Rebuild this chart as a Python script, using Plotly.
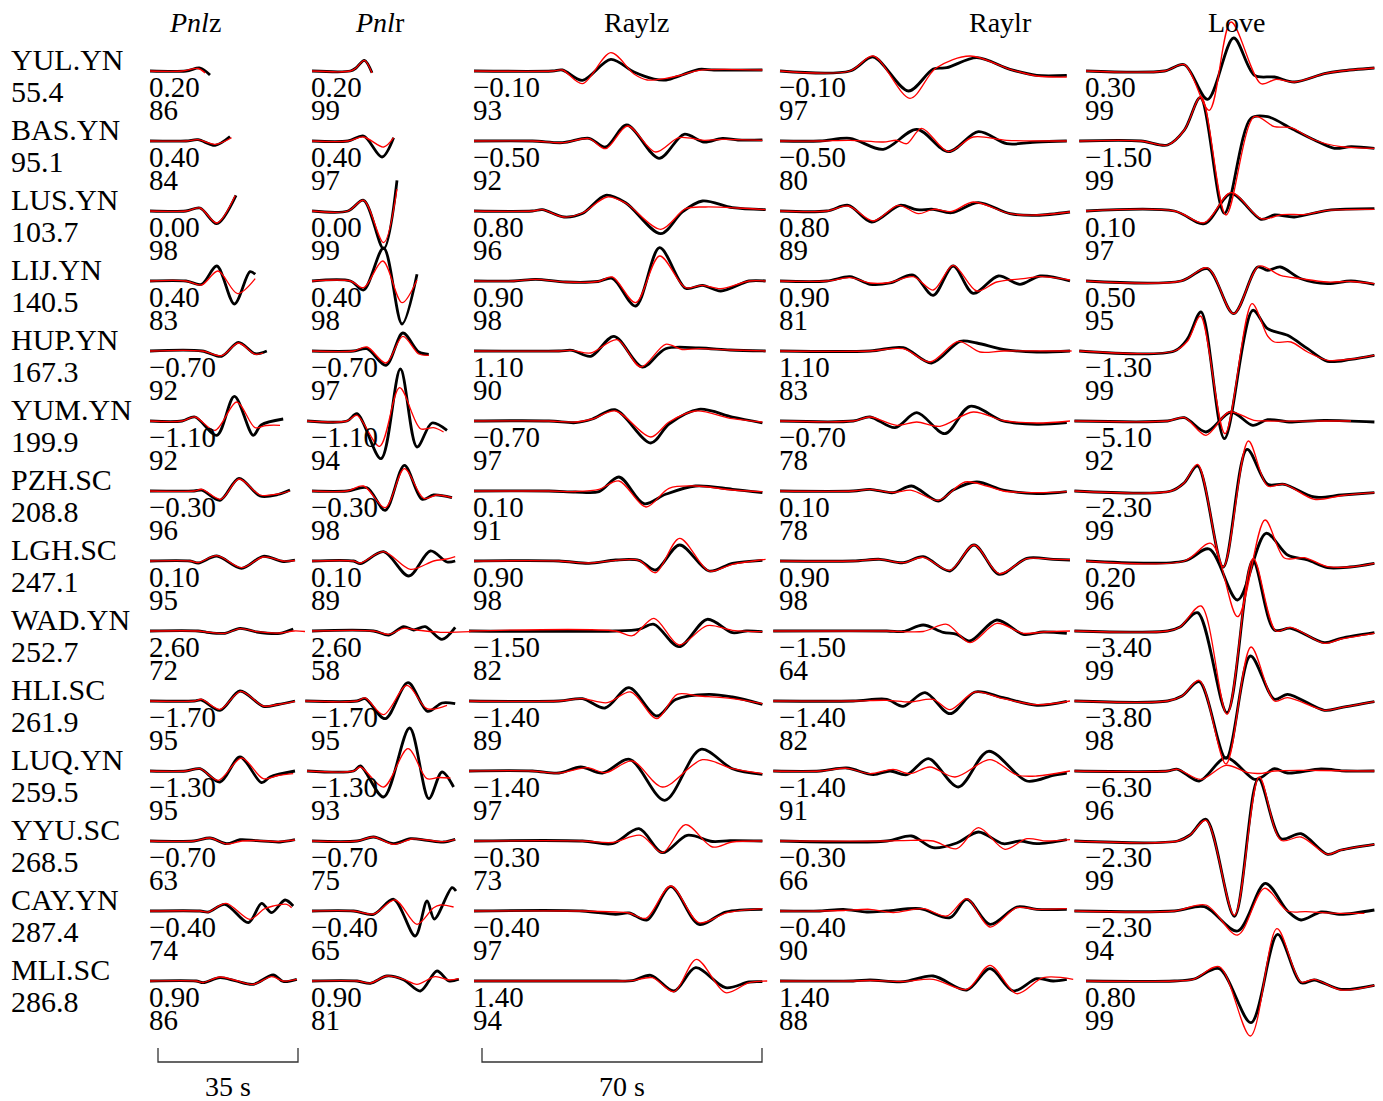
import plotly.graph_objects as go

# ---------------- data ----------------
STATIONS = ["YUL.YN", "BAS.YN", "LUS.YN", "LIJ.YN", "HUP.YN", "YUM.YN", "PZH.SC",
            "LGH.SC", "WAD.YN", "HLI.SC", "LUQ.YN", "YYU.SC", "CAY.YN", "MLI.SC"]
DISTANCES = [55.4, 95.1, 103.7, 140.5, 167.3, 199.9, 208.8,
             247.1, 252.7, 261.9, 259.5, 268.5, 287.4, 286.8]

SHIFT_PNL = [0.20, 0.40, 0.00, 0.40, -0.70, -1.10, -0.30, 0.10, 2.60, -1.70, -1.30, -0.70, -0.40, 0.90]
SHIFT_RAYL = [-0.10, -0.50, 0.80, 0.90, 1.10, -0.70, 0.10, 0.90, -1.50, -1.40, -1.40, -0.30, -0.40, 1.40]
SHIFT_LOVE = [0.30, -1.50, 0.10, 0.50, -1.30, -5.10, -2.30, 0.20, -3.40, -3.80, -6.30, -2.30, -2.30, 0.80]

CC_PNLZ = [86, 84, 98, 83, 92, 92, 96, 95, 72, 95, 95, 63, 74, 86]
CC_PNLR = [99, 97, 99, 98, 97, 94, 98, 89, 58, 95, 93, 75, 65, 81]
CC_RAYLZ = [93, 92, 96, 98, 90, 97, 91, 98, 82, 89, 97, 73, 97, 94]
CC_RAYLR = [97, 80, 89, 81, 83, 78, 78, 98, 64, 82, 91, 66, 90, 88]
CC_LOVE = [99, 99, 97, 95, 99, 92, 99, 96, 99, 98, 96, 99, 94, 99]

# waveforms: (time in s from window start, amplitude), observed (black) and synthetic (red)
PNLZ_OBS = [
    [(0, 0), (9, 0), (12.5, 3), (15, -4)],
    [(0, 0), (9, 0), (12, 1.3), (16.3, -4.3), (20, 4.5)],
    [(0, 0), (9, 0), (12.5, 3), (16.7, -12.7), (21.5, 15.7)],
    [(0, 0), (9, 0), (12.9, -3.3), (16.7, 15), (21.1, -23), (25, 9.3), (26.3, 6.7)],
    [(0, 0), (13, 0), (17.9, -5.3), (22.1, 8.7), (26.3, -2.7), (29.2, 0)],
    [(0, 0), (8, 0), (11.25, 4), (16.7, -14.3), (21.1, 24.7), (25.8, -14.3), (27.8, -4), (33.3, 2)],
    [(0, 0), (11, 0), (13, 0.8), (17.5, -9.3), (22.25, 12.7), (27.5, -5), (32, -3.5), (35, 1)],
    [(0, 0), (10, 0), (12.1, -2), (16.7, 5), (22.9, -7.3), (28.3, 4.7), (33.3, -0.5), (36.25, 1)],
    [(0, 0), (12, 0), (14.2, -1.3), (18.75, -2.3), (22.5, 2.7), (26.7, -1), (32.5, -2.3), (35.8, 2)],
    [(0, 0), (11, 0), (12.9, 1), (17.5, -9.3), (22.5, 10), (28.3, -5.3), (32, -3.5), (36.25, 0)],
    [(0, 0), (9, 0), (12.5, 2.3), (17.5, -11), (22.5, 14), (27.9, -11.7), (30, -6), (36.25, 0)],
    [(0, 0), (11, 0), (15, 3), (19.2, -2.7), (22.5, 1.3), (26.7, 0.3), (32.5, -1), (36.25, 1.3)],
    [(0, 0), (12.5, 0), (14.6, -1), (18.75, 6.7), (24.6, -11.7), (27.9, 7.7), (30.4, -1.7), (33.75, 11), (35.8, 5)],
    [(0, 0), (11.5, 0), (13.3, -1.7), (17.5, 3.3), (21.5, 0), (25.8, -3.3), (30.8, 6), (33.3, -0.5), (36.7, 1.7)],
]
PNLZ_SYN = [
    [(0, 0), (8, 0), (12, 2.5), (13.8, -2)],
    [(0, 0), (9, 0), (12, 1.3), (16.3, -3.3), (20.4, 3.3)],
    [(0, 0), (9, 0), (12.5, 3), (16.7, -12), (21.3, 15.5)],
    [(0, 0), (9, 0), (12.9, -4), (17, 10), (21.9, -12.7), (26.3, 2.3)],
    [(0, 0), (13, 0), (17.9, -4.7), (22.1, 8), (26.3, -3.3), (28.3, -2)],
    [(0, 0), (8, 0), (11.25, 4), (16.25, -9.3), (21.7, 19), (26.25, -6.7), (29, -4.5), (32.5, -4.3)],
    [(0, 0), (11, 0), (13, 1.7), (17.7, -8.3), (22.25, 12), (27.5, -4), (32, -3), (35, 0)],
    [(0, 0), (10, 0), (12.1, -1.5), (16.7, 5.3), (22.9, -6.7), (28.3, 4), (33.3, 0), (36.25, 0.5)],
    [(0, 0), (12, 0), (14.2, -1), (18.75, -2.3), (22.5, 2.3), (26.7, -0.7), (32.5, -2), (36, 0), (38.75, -0.5)],
    [(0, 0), (11, 0), (12.9, 1.7), (17.5, -8.3), (22.7, 9.7), (28.3, -5), (32, -3.5), (36.25, -0.3)],
    [(0, 0), (9, 0), (12.5, 2.3), (17.1, -9.3), (22.9, 13), (28.3, -7.7), (32, -4.5), (35.8, -2.7)],
    [(0, 0), (11, 0), (15, 3), (19.2, -3), (23, 0), (26.7, 0.5), (32.5, -0.5), (36.25, 1)],
    [(0, 0), (12.5, 0), (14.6, -1), (19, 7.7), (25, -8.3), (28.5, 2), (30.8, 5), (34.2, 6.7), (35.4, 3.3)],
    [(0, 0), (11.5, 0), (13.3, -1.5), (17.5, 4), (21.5, 0.5), (25.8, -3.3), (30.4, 4.3), (33.3, 0), (36.7, 1.7)],
]
PNLR_OBS = [
    [(0, 0), (9.6, 0), (11, 3), (13.1, 10.7), (15, -1.7)],
    [(0, 0), (9, 0), (12.9, 5), (17.5, -16), (20.4, 3.3)],
    [(0, 0), (9, 0), (12.9, 10.7), (17.9, -37.7), (21.25, 30.7)],
    [(0, 0), (9.6, 0), (12.9, -9), (17.9, 33), (22.5, -43), (26.25, 6.7)],
    [(0, 0), (10.4, 0), (13.75, 2.3), (18.5, -14.3), (22.7, 18), (26.7, -1), (29.2, -3.3)],
    [(-1.25, 0), (8.75, 0), (11.25, 7.3), (17.25, -37.7), (22.1, 52), (26.25, -26), (30, -2), (33.75, -9.3)],
    [(0, 0), (8.75, 0), (13.75, 3.3), (18.3, -19.3), (23.1, 25.7), (27.5, -8.3), (30.4, -4), (35, -6.7)],
    [(0, 0), (10.4, 0), (12.1, -2.7), (17.9, 9.3), (24.2, -15), (29.6, 10), (33.75, -1), (35.8, 0)],
    [(0, 0), (15.4, 0), (19.2, -4), (22.9, 4.3), (25.4, 1), (28.3, 4.3), (32.5, -8.3), (35.8, 3.7)],
    [(-1.7, 0), (11.25, 0), (13.3, 2.3), (18.3, -17.7), (24, 18.3), (28.9, -10.3), (32.5, -2), (35.8, -2.7)],
    [(-1.25, 0), (10.4, 0), (12.1, 5), (17.9, -26), (24.4, 43), (29.2, -27.7), (32.5, -1), (35.4, -16)],
    [(0, 0), (11.25, 0), (15.4, 4), (20.4, -2.7), (24.6, 2.3), (28.75, 0.7), (32.9, -1), (35.8, 1.7)],
    [(0, 0), (10.4, 0), (15.4, -3.3), (20.4, 11.7), (25.8, -25), (28.75, 10), (30.6, -8), (35, 23.3), (36, 20)],
    [(0, 0), (11.25, 0), (14.6, -2.3), (18.75, 5), (23, 1), (27.1, -10), (31.25, 10), (34.2, 0), (36.7, 1.7)],
]
PNLR_SYN = [
    [(0, 0), (9.6, 0), (11, 3), (13.1, 10.7), (15, -2)],
    [(0, 0), (9, 0), (12.9, 4), (17.9, -6), (20.4, 3.3)],
    [(0, 0), (9, 0), (12.9, 10.7), (17.9, -31.7), (21.25, 22)],
    [(0, 0), (9.6, 0), (12.9, -6.7), (17.7, 20), (22.5, -21.7), (26.25, 1)],
    [(0, 0), (10.4, 0), (13.75, 4), (18.5, -12), (22.7, 14.7), (26.7, -3), (29.2, -4.3)],
    [(-1.25, 0), (8.75, 0), (11.25, 5.7), (16.9, -25.3), (21.9, 33.3), (27.1, -7.7), (30.4, -6.7), (32.9, -11)],
    [(0, 0), (8.75, 0), (12.9, 5), (18.3, -16.7), (23.1, 22.3), (27.9, -7.3), (31.25, -4), (35, -6.7)],
    [(0, 0), (10.4, 0), (12.1, -2), (17.9, 9.3), (24.6, -8.3), (30.4, 0), (33.75, 2), (35.8, 4.3)],
    [(0, 0), (15.4, 0), (19.2, -3.3), (22.9, 2.7), (26.25, 1), (32.1, -1.3), (39.6, -0.7)],
    [(-1.7, 0), (11.25, 0), (13.3, 3), (17.9, -13.7), (23.75, 15.7), (28.75, -7.7), (33.75, -4.3)],
    [(-1.25, 0), (10.4, 0), (12.1, 4), (17.9, -16), (24, 22.3), (28.75, -7.7), (31.5, -6.5), (34.6, -7)],
    [(0, 0), (11.25, 0), (15.4, 4), (20.4, -3.3), (25, 2), (28.75, 1), (32.9, -0.7), (35.8, 1.3)],
    [(0, 0), (10.4, 0), (15.4, -3), (20.8, 11), (26.25, -13.3), (30.4, 3.3), (32.1, 6), (35.4, 4)],
    [(0, 0), (11.25, 0), (14.6, -2), (18.75, 5), (23, 1.5), (26.25, -3.3), (30.8, 4.3), (34.2, 1), (36.7, 2.3)],
]
RAYLZ_OBS = [
    [(0, 0), (19.6, 0), (22.1, 1), (27.1, -9.3), (34.2, 11.7), (40, -1), (45, -8), (48, -9), (52, -4), (56.25, 1.7), (60, 1), (72.1, 1)],
    [(0, 0), (14.6, 0), (22.1, -1.7), (28.75, 2.7), (32.9, -6), (38.2, 16), (46.25, -17.3), (52.5, 6.7), (57.5, -1), (62.1, 2.7), (66, 1), (72.1, 1)],
    [(0, 0), (14.6, 0), (17.1, 1.3), (22.5, -6), (27.1, -2.5), (32.9, 15.7), (37.9, 8.3), (46.7, -22.7), (52.1, -1), (57.1, 10), (64.6, 3.3), (72.9, 1.3)],
    [(0, 0), (10, 0), (15.4, 1.7), (22.9, -1), (31, -0.5), (34.6, 2.7), (40.4, -25), (46.4, 33.3), (52.9, -7.3), (57.1, -4.3), (61.7, -10), (68.75, 0), (72.9, 0)],
    [(0, 0), (21.25, 0), (24.5, 0.7), (29.2, -5.3), (35, 14.7), (42.1, -16), (47.9, 2.3), (56.25, 3), (64, 1), (72.9, 0)],
    [(0, 0), (18.75, 0), (25.4, -1.7), (29.6, 2), (35.25, 11.3), (44.2, -22), (48.75, -3), (56.25, 11.7), (64.6, 4), (72.1, -2)],
    [(0, 0), (18.75, 0), (25.4, -1), (31.25, -0.7), (36.25, 14), (42.5, -12.7), (47.9, -3.3), (55.4, 5), (64.6, 1.7), (72.1, -1.7)],
    [(0, 0), (21.25, 0), (28.75, -2.3), (35.4, 1), (41.25, 0.7), (45.4, -9), (51.4, 16), (58.75, -10), (64.6, -2.3), (72.1, 0.7)],
    [(-1.25, 0), (35.4, 0), (41.25, 1.7), (45, 6.7), (51.25, -15.7), (58.3, 11.7), (64.6, -1.7), (68, 0), (72.1, -0.7)],
    [(-1.25, 0), (21.25, 0), (27.1, 2.3), (32.75, -7), (38.75, 13.3), (45.7, -15), (50.4, 1.5), (58.75, 6.7), (64.6, 4), (72.1, -3.3)],
    [(-1.25, 0), (14.6, 0), (21.25, -2), (26.7, 4), (32.1, -2), (38.9, 11.7), (47.7, -29.3), (56.7, 21.7), (64.6, 2.3), (72.1, -3.3)],
    [(0, 0), (27.1, 0), (34.6, -2.7), (41.25, 12.3), (47.1, -11.7), (53.3, 5.7), (59.6, -0.5), (64, 0.3), (72.1, 0)],
    [(0, 0), (27.1, 0), (35.4, -3.3), (38.75, -2), (43.3, -9), (49.2, 24.3), (56.25, -13.3), (62.9, -1), (72.1, 1.7)],
    [(0, 0), (35.4, 0), (39.6, 0.3), (44.2, 5.7), (50, -10), (55.4, 13.3), (62.9, -6.7), (68.75, -1), (72.1, -0.7)],
]
RAYLZ_SYN = [
    [(0, 0), (19.6, 0), (22.1, 1), (27.1, -12.7), (34.2, 18.3), (40, -3), (43.3, -9), (48, -7.3), (52, -4), (56.25, 0.7), (72.1, 1)],
    [(0, 0), (14.6, 0), (22.1, -1.7), (28.75, 2.3), (32.9, -7.7), (38.4, 15), (45.4, -11), (51.25, 3.3), (57.5, 0.7), (62.1, 1.7), (72.1, 0.7)],
    [(0, 0), (14.6, 0), (17.1, 1.3), (22.5, -6), (27.1, -2), (33.3, 14), (37.9, 8), (46.7, -18.3), (52.9, 2.3), (57.9, 4), (66, 3), (72.9, 1.3)],
    [(0, 0), (10, 0), (15.4, 1.7), (22.9, -1), (31, -0.5), (34.6, 4), (40.4, -21.7), (46.4, 25), (52.9, -6.7), (57.1, -4.3), (61.7, -7.7), (68.75, 0), (72.9, 0)],
    [(0, 0), (21.25, 0), (24.5, 0.7), (29.2, -2), (35.8, 11.3), (41.7, -16), (47.9, 6.7), (52, 1.5), (56.25, 2.3), (64, 1), (72.9, 0)],
    [(0, 0), (18.75, 0), (25.4, -1), (29.6, 2), (35.4, 10), (44.2, -16), (48.75, -1), (55.4, 10), (64.6, 2.3), (72.1, -1)],
    [(0, 0), (18.75, 0), (25.4, -0.5), (31.25, 1.7), (36.25, 10), (43, -16), (48.75, 2.7), (55.4, 5), (64.6, 1), (72.1, -0.7)],
    [(0, 0), (21.25, 0), (28.75, -2), (35.4, 0.7), (41.25, 0.7), (45.4, -11.7), (51.4, 22.7), (58.75, -10), (64.6, -3.3), (72.9, 1.7)],
    [(-1.25, 0), (35.4, 0), (39.6, -4.7), (45, 12.7), (51.25, -14), (58.3, 5.3), (64.6, 0.7), (72.1, -0.7)],
    [(-1.25, 0), (21.25, 0), (27.1, 2.3), (33.3, -1.7), (39.2, 9), (45.7, -17.7), (50.8, 6.7), (56.25, 5), (64.6, 2.3), (72.1, -2.7)],
    [(-1.25, 0), (14.6, 0), (21.25, -2), (28.3, 3.3), (32.9, -1.7), (39.6, 10), (47.1, -16), (57.1, 11.3), (64.6, 2.3), (72.1, -2.7)],
    [(0, 0), (27.1, 0), (34.6, -1.5), (41.7, 5.7), (47.1, -11.7), (52.9, 16.3), (59.6, -6), (64.6, -1), (72.1, 0)],
    [(0, 0), (27.1, 0), (35.4, -1), (38.75, -2), (43, -7.3), (49.2, 25), (56.25, -11.7), (63.3, -1.7), (72.1, 2.3)],
    [(0, 0), (35.4, 0), (39.6, 0.3), (44.6, 3.3), (50, -10.7), (55.6, 21.7), (62.9, -11.7), (68.75, -1.7), (73.3, 0)],
]
RAYLR_OBS = [
    [(0, 0), (17.5, 0), (23.3, 14), (32.1, -20), (38.3, 2), (41.7, 3.3), (49.2, 13.3), (57.5, 1.7), (64.2, -4.3), (71.7, -4.3)],
    [(0, 0), (10, 0), (17.5, 2.7), (25.8, -8.3), (34.2, 11.7), (42.1, -10.7), (49.6, 9.3), (56.7, -2.7), (64.2, -1), (71.7, 0)],
    [(0, 0), (11.7, 0), (17.1, 5.7), (22.9, -11), (30, 5.7), (34.2, 1.3), (38.3, 1.7), (42.9, -1.7), (49.6, 8.3), (57.5, -2.7), (64.2, -4.3), (72.5, -1)],
    [(0, 0), (11.7, 0), (17.5, 4.3), (22.5, -3.3), (27.5, -2), (33.3, 6), (38.3, -14.3), (43.3, 15), (48.3, -12.3), (54.6, 5), (60, -3.3), (65, 5), (72.5, 0)],
    [(0, 0), (22.5, 0), (30.8, 3.3), (37.9, -12), (45, 9.7), (49.2, 8), (55.8, 1.7), (64.2, -1), (72.5, 0)],
    [(0, 0), (18.3, 0), (22.5, 4), (28.75, -6.7), (34.2, 8.3), (41.25, -12.7), (47.5, 14.7), (55.8, 0), (64.2, -3.3), (71.7, -1.7)],
    [(0, 0), (18.3, 0), (22.5, 1.7), (28.3, -1.7), (32.9, 5), (39.6, -10), (43.3, 1), (49.2, 9), (55.8, 1), (64.2, -2.7), (71.7, -0.7)],
    [(0, 0), (18.3, 0), (25, 1.7), (30.8, -1.7), (35.8, 4.3), (42.5, -10), (48.5, 16), (54.8, -13.3), (61.7, 2.7), (68.3, 1.7), (72.5, 1)],
    [(-1.7, 0), (26.7, 0), (30.8, -0.5), (35.8, 6), (40.8, -1.3), (44.2, -3.3), (47.5, -10), (54.2, 11), (60.8, -3.3), (65.8, -1), (71.7, -2.3)],
    [(-1.7, 0), (18.3, 0), (26.7, 1.7), (30.8, -5.3), (36.25, 8.3), (42.5, -12.7), (48.75, 9), (55.8, 3.3), (64.2, -4.3), (71.7, -0.3)],
    [(-1.7, 0), (10, 0), (16.7, 3), (23.3, -3.7), (27.5, 0), (31.7, -3.7), (37.1, 12.3), (44.6, -16), (52.1, 19.7), (61.7, -10), (68.3, -4.3), (71.7, -2)],
    [(0, 0), (26.7, 0), (32.9, 5), (38.3, -6.7), (44.2, -2), (49.6, 9), (55.8, -2.7), (60, 0), (64.2, -2.7), (71.7, 1.3)],
    [(0, 0), (10, 0), (15.8, 1.7), (21.7, -1), (26.7, 0), (35, 2.3), (42.5, -6.7), (46.7, 11.7), (52.5, -13.3), (59.2, 4), (64.2, 1.7), (71.7, 1.7)],
    [(0, 0), (18.3, 0), (22.5, 1), (30.8, -0.7), (38.3, 5), (46.7, -9), (52.5, 12.3), (58.3, -10), (64.2, 2.3), (68.3, 0), (71.7, 1.7)],
]
RAYLR_SYN = [
    [(0, 0), (17.5, 0), (23.3, 15), (32.5, -27.3), (39, 3), (47.5, 15), (57.5, 1.7), (64.2, -5), (71.7, -6)],
    [(0, 0), (10, 0), (17.5, 0.7), (25.8, -1), (29.2, 0.7), (31.7, -2.7), (35.4, 12.7), (42.1, -10.7), (48.3, 4), (56.7, 0.7), (71.7, 0)],
    [(0, 0), (11.7, 0), (17.1, 5), (23.3, -10), (29.6, 5.7), (34.6, -2.7), (38.3, 1.7), (42.9, -0.5), (48.3, 9), (57.5, -2.7), (64.2, -4), (72.5, -1)],
    [(0, 0), (11.7, 0), (17.5, 3.3), (22.5, -2), (27.5, -1.5), (33.3, 4.3), (38.3, -9), (43.3, 15.7), (49.2, -10), (54.2, -1), (60.8, 2.3), (65, 4.3), (72.5, 1)],
    [(0, 0), (22.5, 0), (30.8, 2.3), (37.5, -11), (44.6, 9.7), (50, -1), (55.8, 0), (72.9, 0)],
    [(0, 0), (18.3, 0), (22.5, 4), (29.2, -4.3), (34.2, -1), (40, -5.3), (48.3, 9), (55.8, 0.5), (64.2, -2), (72.5, 0)],
    [(0, 0), (18.3, 0), (22.5, 1.7), (28.3, -1.5), (32.9, 0.7), (39.6, -9.3), (46.25, 9), (51.7, 5), (55.8, 0), (64.2, -1.7), (71.7, -0.7)],
    [(0, 0), (18.3, 0), (25, 1.7), (30.8, -1.7), (35.8, 3.7), (42.5, -9.3), (48.5, 16), (54.8, -12.7), (61.7, 2.3), (68.3, 1.7), (72.5, 1.3)],
    [(-1.7, 0), (26.7, 0), (35.8, -0.5), (41.7, 6.7), (47.5, -11.7), (54.2, 7.7), (60.8, -2.3), (65.8, -1), (72.5, 0)],
    [(-1.7, 0), (18.3, 0), (26.7, 0.7), (32.5, -1), (38.3, 1.7), (42.5, -8.7), (48.75, 9), (55.8, 2.3), (64.2, -3.7), (72.5, 0)],
    [(-1.7, 0), (10, 0), (16.7, 2.7), (22.5, -2.7), (28.3, 1.7), (32.5, -2.7), (37.5, 4), (43.75, -6), (52.5, 11.3), (59.2, -4), (64.2, -5), (72.5, 0)],
    [(0, 0), (26.7, 0), (32.9, 0.7), (38.3, 0), (44.2, -7.7), (49.6, 13.3), (56.25, -8.3), (61.7, 2.3), (66.7, 0), (72.5, 1.3)],
    [(0, 0), (10, 0), (16, 0.5), (22.5, 1.7), (28.3, -1.5), (35.8, 2.3), (41.7, -5), (46.7, 12.3), (52.5, -16), (59.2, 3.3), (64.2, 1.7), (71.7, 2.3)],
    [(0, 0), (18.3, 0), (22.5, 0.5), (30.8, -0.5), (38.3, 1.7), (46.7, -8.3), (52.5, 15.7), (59.2, -12.7), (65.8, 3.3), (73.3, 1.7)],
]
LOVE_OBS = [
    [(0, 0), (19.6, 0), (24.6, 6.3), (30.4, -28.3), (36.9, 33), (42.1, -4.3), (47.1, -6), (52.1, -11), (59.6, -2.7), (63.75, 0), (72.1, 3)],
    [(-1.7, 0), (13.75, 0), (20.4, -4), (24.6, 11), (28.6, 43.3), (34.6, -72.3), (41.25, 22.7), (45.4, 24.3), (51.25, 12.7), (57.1, 1), (62.1, -7.3), (66.25, -5.7), (72.1, -7.3)],
    [(0, 0), (22.1, 0), (29.6, -12.7), (36.25, 17.3), (43.75, -8.3), (47.1, -4), (52.1, -6), (60.4, 0.7), (72.1, 2.3)],
    [(0, 0), (23.75, 0), (30.4, 12.3), (36.9, -32.7), (42.9, 14), (45.4, 10.7), (48.6, 14), (53.75, 2.3), (60.4, -2.7), (66.25, 0), (72.1, -3.3)],
    [(-1.7, 0), (22.1, 0), (25.4, 12.3), (28.75, 39), (34.6, -87.7), (41.7, 40.7), (45.4, 22.3), (50.4, 15.7), (55.4, 2.3), (60.4, -10.3), (66.25, -8.3), (72.1, -4.3)],
    [(-2.9, 0), (20.4, 0), (24.6, 3.3), (30, -11), (36.25, 9), (41.7, -4.3), (45.4, 1.3), (51.25, -1), (59.6, 0.7), (72.1, -1)],
    [(-2.9, 0), (21.25, 0), (24.5, 8), (27.9, 25), (34.3, -76), (40.25, 41.7), (45.4, 6.7), (49.6, 6.7), (57.1, -6), (64, -4), (72.1, -1.7)],
    [(0, 0), (24.6, 0), (30.8, 12), (37.9, -39), (45, 27.7), (50.4, 6), (55.4, 1), (60.4, -6.7), (66, -6), (72.1, -2.3)],
    [(-2.9, 0), (20.4, 0), (23.5, 4), (27.9, 18.3), (35.25, -81.7), (41.7, 70.3), (47.1, 1), (51.25, 2.7), (59.6, -11.7), (63.75, -7.3), (72.1, -1.7)],
    [(-2.9, 0), (20.4, 0), (24, 5), (28.3, 19.3), (35, -57.3), (41.1, 45), (47.1, 1.7), (50.4, 6.7), (59.6, -9.3), (63.75, -6.7), (72.1, -0.7)],
    [(-2.9, 0), (20.4, 0), (22.9, 1.7), (28.3, -10), (35, 13.3), (42.1, -8.3), (44, -6), (47.1, 2.3), (50.4, -2), (58.75, 2), (65, 0), (72.1, 0)],
    [(-2.9, 0), (22.9, 0), (26, 6), (30, 21.7), (37.1, -75.3), (43.1, 62.3), (48.75, 2.3), (53.75, 7.3), (60.4, -13.3), (63.75, -9), (72.1, -3.3)],
    [(-2.9, 0), (22.1, 0), (29.6, 4.3), (37.9, -20), (44.8, 27.7), (50.4, 0), (53.75, -9), (58.75, -1), (63.75, -3.3), (72.1, 1)],
    [(0, 0), (22.1, 0), (27, 2), (33.3, 12.3), (41.25, -41.7), (47.9, 46.7), (53.75, -1.7), (57.1, 1), (63.75, -8.3), (72.1, -4.3)],
]
LOVE_SYN = [
    [(0, 0), (19.6, 0), (24.6, 6.3), (30.8, -39.3), (36.25, 49), (43.75, -12.7), (47.5, -8.3), (52.1, -11), (59.6, -2.7), (63.75, 0), (72.1, 3)],
    [(-1.7, 0), (13.75, 0), (20.4, -4), (24.6, 11), (28.75, 44.3), (35, -74), (42.1, 24.3), (47.1, 14.3), (51.25, 13.3), (57.1, 1), (63.75, -5.7), (72.1, -7.3)],
    [(0, 0), (22.1, 0), (29.6, -11.7), (36.25, 18.3), (43.75, -7.7), (49, -3.7), (55, -3.3), (60.4, 0.7), (72.1, 1.7)],
    [(0, 0), (23.75, 0), (30.4, 13), (36.9, -32.7), (43.3, 15), (48.6, 5.7), (53.75, 2.3), (60.4, -1), (66.25, -0.5), (72.1, -2.7)],
    [(-1.7, 0), (22.1, 0), (25.4, 10), (28.6, 35), (34.75, -82.7), (41.5, 47.3), (45.4, 15), (47.1, 9), (51.25, 9), (55.4, -1), (60.4, -9.3), (66.25, -8), (72.1, -4.3)],
    [(-2.9, 0), (20.4, 0), (24.6, 3.3), (30, -14.3), (35.8, 9), (42, 0.7), (45.4, 0), (59.6, 0), (66.25, 0)],
    [(-2.9, 0), (21.25, 0), (24.5, 8), (27.9, 26.7), (34.3, -76), (40.6, 50), (45.4, 5), (49.6, 6.7), (57.1, -8.3), (64, -4.5), (72.1, -1.7)],
    [(0, 0), (24.6, 0), (31.25, 17.7), (37.9, -55.7), (44.75, 41), (49.6, 3), (54.6, 3.3), (60.4, -5.7), (66, -6), (72.1, -2.3)],
    [(-2.9, 0), (20.4, 0), (23.5, 4), (28.75, 25), (35.25, -83.3), (41.8, 72.7), (47.5, 0), (51.25, 3.7), (59.6, -12.3), (63.75, -8), (72.1, -2.3)],
    [(-2.9, 0), (20.4, 0), (24, 5), (28.3, 20.7), (35, -63), (41.25, 54), (47.1, 0), (50.4, 3.3), (59.6, -9.3), (63.75, -6.7), (72.1, -0.7)],
    [(-2.9, 0), (20.4, 0), (22.9, 1.7), (28.75, -8.3), (35, 5.7), (40.5, -1.7), (44, -2.3), (47.1, 0), (58.75, 0.5), (72.1, 0)],
    [(-2.9, 0), (22.9, 0), (26, 6), (30, 20.7), (37.1, -74.3), (43.3, 64), (48.75, 0.7), (53.75, 4), (60.4, -13.3), (63.75, -9), (72.1, -3.3)],
    [(-2.9, 0), (22.1, 0), (30, 6), (37.9, -24), (44.6, 22.7), (50.4, 0), (55, -0.7), (63.75, -2.3), (69.6, -2.3)],
    [(0, 0), (22.1, 0), (27, 2), (33.3, 14.3), (41.1, -55), (47.75, 52.3), (53.75, -1), (57.1, 1.7), (63.75, -9), (72.1, -4.3)],
]

COMPONENTS = ["<i>Pnl</i>z", "<i>Pnl</i>r", "Raylz", "Raylr", "Love"]
SCALE_BARS = [(0, 35), (2, 70)]  # (column index, duration in s)

# ---------------- layout constants ----------------
W, H = 1383, 1101
PX_PER_S = 4.0                 # horizontal scale
TOP = 71.0                     # px from top to first baseline
ROW_GAP = 70.0                 # px between station rows
COL_START = [37.5, 78.0, 118.5, 195.0, 271.5]   # window starts on the shared time axis (s)
HEADER_X = [48.75, 95.0, 159.0, 250.0, 309.25]
FONT = "Liberation Serif"

OBS = [PNLZ_OBS, PNLR_OBS, RAYLZ_OBS, RAYLR_OBS, LOVE_OBS]
SYN = [PNLZ_SYN, PNLR_SYN, RAYLZ_SYN, RAYLR_SYN, LOVE_SYN]
SHIFTS = [SHIFT_PNL, SHIFT_PNL, SHIFT_RAYL, SHIFT_RAYL, SHIFT_LOVE]
CCS = [CC_PNLZ, CC_PNLR, CC_RAYLZ, CC_RAYLR, CC_LOVE]


def fmt(v):
    s = f"{v:.2f}"
    return s.replace("-", "\u2212")


fig = go.Figure()

ox, oy, sx, sy = [], [], [], []
for c in range(5):
    for r in range(len(STATIONS)):
        for pts, xs, ys in ((OBS[c][r], ox, oy), (SYN[c][r], sx, sy)):
            for t, a in pts:
                xs.append(COL_START[c] + t)
                ys.append(-ROW_GAP * r + a)
            xs.append(None)
            ys.append(None)

fig.add_trace(go.Scatter(x=ox, y=oy, mode="lines", hoverinfo="skip",
                         line=dict(color="black", width=2.8, shape="spline", smoothing=0.9)))
fig.add_trace(go.Scatter(x=sx, y=sy, mode="lines", hoverinfo="skip",
                         line=dict(color="#ff0000", width=1.3, shape="spline", smoothing=0.9)))

# scale bars
for col, dur in SCALE_BARS:
    x0 = COL_START[col] + 2.0
    x1 = x0 + dur
    ytop, ybar = TOP - 1048, TOP - 1062
    fig.add_trace(go.Scatter(x=[x0, x0, x1, x1], y=[ytop, ybar, ybar, ytop], mode="lines",
                             hoverinfo="skip", line=dict(color="#333333", width=1.3)))

annotations = []


def text(x, y, s, size, xanchor="left"):
    annotations.append(dict(x=x, y=y, xref="x", yref="y", text=s, showarrow=False,
                            xanchor=xanchor, yanchor="middle", borderpad=0,
                            font=dict(family=FONT, size=size, color="black")))


for r, (name, dist) in enumerate(zip(STATIONS, DISTANCES)):
    base = -ROW_GAP * r
    text(9.5 / PX_PER_S, base + 12, name, 30)
    text(9.5 / PX_PER_S, base - 20.5, f"{dist:.1f}", 30)
    for c in range(5):
        text(COL_START[c] - 0.45, base - 16, fmt(SHIFTS[c][r]), 29)
        text(COL_START[c] - 0.45, base - 38.5, str(CCS[c][r]), 29)

for c, lab in enumerate(COMPONENTS):
    text(HEADER_X[c], TOP - 22, lab, 28, xanchor="center")

for col, dur in SCALE_BARS:
    x0 = COL_START[col] + 2.0
    text(x0 + dur / 2, TOP - 1086, f"{dur} s", 28, xanchor="center")

fig.update_layout(
    width=W, height=H, margin=dict(l=0, r=0, t=0, b=0),
    paper_bgcolor="white", plot_bgcolor="white", showlegend=False,
    xaxis=dict(range=[0, W / PX_PER_S], visible=False, fixedrange=True),
    yaxis=dict(range=[TOP - H, TOP], visible=False, fixedrange=True),
    annotations=annotations,
)

fig.write_html("out.html", config={"displayModeBar": False})
